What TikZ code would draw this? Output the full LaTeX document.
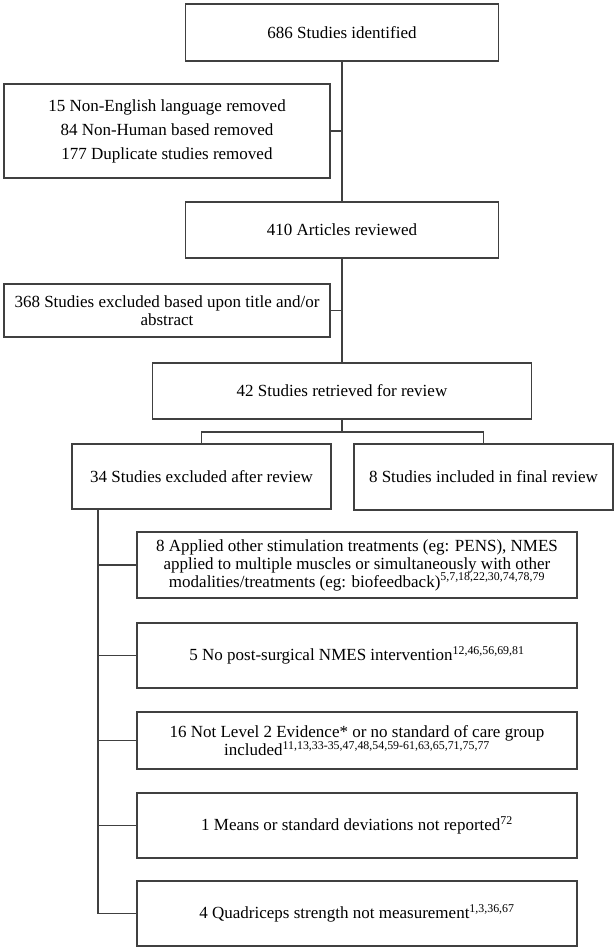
\documentclass[tikz,border=0pt]{standalone}
\usepackage{fontspec}
\setmainfont{Liberation Serif}

\begin{document}
\begin{tikzpicture}
        [x=1pt, y=-1pt,
        box/.style={draw=black!75, line width=1.1pt, rectangle, align=center, inner sep=2pt,
            font=\fontsize{17}{18}\selectfont},
        link/.style={draw=black!75, line width=1.1pt},
        reason/.style={box, minimum width=440pt}]

        \useasboundingbox (0,0) rectangle (614,951);

        \node[box, minimum width=313pt, minimum height=57pt] (ident) at (342,32.5) {686 Studies identified};
        \node[box, minimum width=326pt, minimum height=94pt] (removed) at (167,131)
            {15 Non-English language removed\\[6pt] 84 Non-Human based removed\\[6pt] 177 Duplicate studies removed};
        \node[box, minimum width=313pt, minimum height=56pt] (articles) at (342,230) {410 Articles reviewed};
        \node[box, minimum width=326pt, minimum height=53pt] (title) at (167,310.5)
            {368 Studies excluded based upon title and/or\\ abstract};
        \node[box, minimum width=379pt, minimum height=56pt] (retrieved) at (342,391) {42 Studies retrieved for review};
        \node[box, minimum width=259pt, minimum height=65pt] (excluded) at (201.5,476.5) {34 Studies excluded after review};
        \node[box, minimum width=259pt, minimum height=66pt] (included) at (483.5,477) {8 Studies included in final review};

        \node[reason, minimum height=66pt] (other) at (357,565)
            {8 Applied other stimulation treatments (eg: PENS), NMES\\ applied to multiple muscles or simultaneously with other\\
             modalities/treatments (eg: biofeedback)\textsuperscript{5,7,18,22,30,74,78,79}};
        \node[reason, minimum height=65pt] (postsurg) at (357,655.5)
            {5 No post-surgical NMES intervention\textsuperscript{12,46,56,69,81}};
        \node[reason, minimum height=57pt] (level) at (357,740.5)
            {16 Not Level 2 Evidence* or no standard of care group\\
             included\textsuperscript{11,13,33-35,47,48,54,59-61,63,65,71,75,77}};
        \node[reason, minimum height=65pt] (means) at (357,825.5)
            {1 Means or standard deviations not reported\textsuperscript{72}};
        \node[reason, minimum height=65pt] (quad) at (357,913.5)
            {4 Quadriceps strength not measurement\textsuperscript{1,3,36,67}};

        \coordinate (split) at (342,432);
        \coordinate (spine) at (98,509);

        % main line
        \draw[link] (ident) -- (articles);
        \draw[link] (articles) -- (retrieved);
        \draw[link] (removed.east) -- (removed.east -| ident.south);
        \draw[link] (title.east) -- (title.east -| articles.south);

        % split after review
        \draw[link] (retrieved) -- (split);
        \draw[link] (excluded.north) |- (split) -| (included.north);

        % reasons for exclusion
        \draw[link] (spine) |- (quad.west);
        \foreach \r in {other, postsurg, level, means}
            \draw[link] (\r.west) -- (\r.west -| spine);

\end{tikzpicture}
\end{document}
